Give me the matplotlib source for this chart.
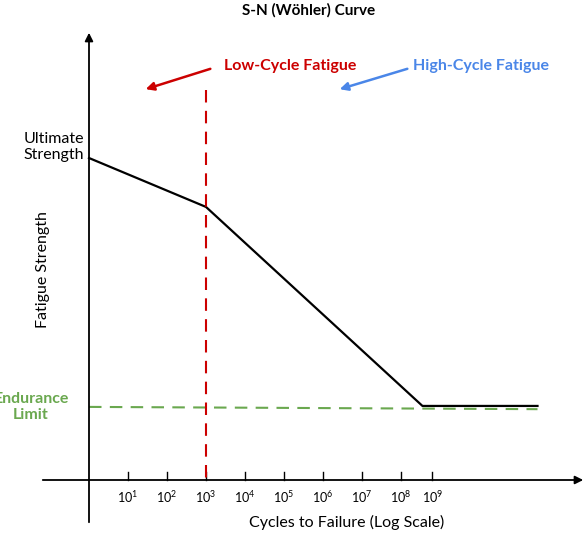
import matplotlib.pyplot as plt

# log10(cycles) and strength (relative units)
curve_logn = [0, 3, 8.55, 11.5]
curve_s = [100, 84.8, 23.0, 23.0]
endurance_logn = [0, 11.5]
endurance_s = [22.7, 22.0]
tick_exp = [1, 2, 3, 4, 5, 6, 7, 8, 9]
tick_pos = [1, 2, 3, 4, 5, 6, 7, 8, 8.8]

W, H = 586, 534
px = 39.0          # pixels per decade
x0, y0 = 89, 480   # origin in pixels
sy = 322 / 100.0   # pixels per strength unit

plt.rcParams['font.family'] = ['Lato', 'DejaVu Sans']
plt.rcParams['mathtext.fontset'] = 'custom'
plt.rcParams['mathtext.rm'] = 'Lato'
fig = plt.figure(figsize=(W / 100, H / 100), dpi=100)
ax = fig.add_axes([0, 0, 1, 1])
ax.set_xlim(-x0 / px, (W - x0) / px)
ax.set_ylim(-(H - y0) / sy, y0 / sy)
ax.axis('off')

def P(x, y):
    return ((x - x0) / px, (y0 - y) / sy)

# axes with arrows
ax.annotate('', xy=P(89, 30), xytext=P(89, 525),
            arrowprops=dict(arrowstyle='-|>', color='black', lw=1.3, mutation_scale=12))
ax.annotate('', xy=P(586, 480), xytext=P(40, 480),
            arrowprops=dict(arrowstyle='-|>', color='black', lw=1.3, mutation_scale=12))

for t, p in zip(tick_exp, tick_pos):
    ax.plot([p, p], [P(0, 472)[1], P(0, 480)[1]], color='black', lw=1)
    ax.text(p, P(0, 497)[1], f'$\\mathrm{{10}}^{{\\mathrm{{{t}}}}}$', ha='center', va='center', fontsize=9)

ax.plot(curve_logn, curve_s, color='black', lw=1.6)
ax.plot(endurance_logn, endurance_s, color='#6aa84f', lw=1.5, ls=(0, (6, 4)))
ax.plot([3, 3], [P(0, 90)[1], 0], color='#cc0000', lw=1.5, ls=(0, (6, 4)))

ax.annotate('', xy=P(143, 90), xytext=P(213, 68),
            arrowprops=dict(arrowstyle='-|>', color='#cc0000', lw=1.8, mutation_scale=12))
ax.annotate('', xy=P(337, 90), xytext=P(410, 68),
            arrowprops=dict(arrowstyle='-|>', color='#4a86e8', lw=1.8, mutation_scale=12))
ax.text(*P(224, 66), 'Low-Cycle Fatigue', color='#cc0000', fontsize=11.5, fontweight='bold',
        ha='left', va='center')
ax.text(*P(413, 66), 'High-Cycle Fatigue', color='#4a86e8', fontsize=11.5, fontweight='bold',
        ha='left', va='center')

ax.text(*P(309, 10), 'S-N (Wöhler) Curve', fontsize=11, fontweight='bold', ha='center', va='center')
ax.text(*P(84, 147), 'Ultimate\nStrength', fontsize=11.5, ha='right', va='center')
ax.text(*P(43, 270), 'Fatigue Strength', fontsize=11.5, rotation=90, ha='center', va='center')
ax.text(*P(31, 407), 'Endurance\nLimit', fontsize=11.5, color='#6aa84f', fontweight='bold',
        ha='center', va='center')
ax.text(*P(347, 522), 'Cycles to Failure (Log Scale)', fontsize=11.5, ha='center', va='center')

fig.savefig('out.png', dpi=100)
